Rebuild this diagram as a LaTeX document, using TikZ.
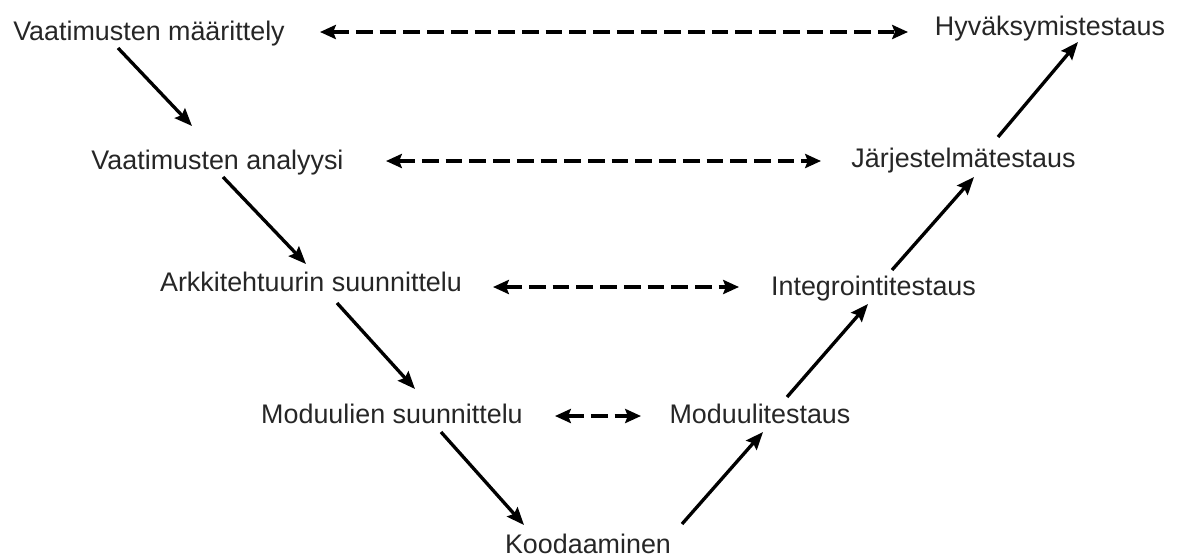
\documentclass[tikz,border=0pt]{standalone}
\usepackage{fontspec}
\setmainfont{Liberation Sans}
\usetikzlibrary{arrows.meta}
\begin{document}
\begin{tikzpicture}[x=0.02cm,y=-0.02cm,
  lbl/.style={anchor=base,inner sep=0pt,text=black!85,font=\fontsize{15.3}{18}\selectfont},
  flow/.style={line width=1.9pt,-{Stealth[length=10pt,width=8pt,inset=1.5pt]}},
  pair/.style={line width=1.9pt,dash pattern=on 9.5pt off 4pt,{Stealth[length=9pt,width=8pt,inset=1.5pt]}-{Stealth[length=9pt,width=8pt,inset=1.5pt]}}]
\useasboundingbox (0,0) rectangle (1179,558);
\node[lbl] (vm) at (149,40) {Vaatimusten määrittely};
\node[lbl] (hy) at (1050,35) {Hyväksymistestaus};
\node[lbl] (va) at (217.5,169) {Vaatimusten analyysi};
\node[lbl] (js) at (963.5,167) {Järjestelmätestaus};
\node[lbl] (ar) at (311,291) {Arkkitehtuurin suunnittelu};
\node[lbl] (it) at (873.5,295) {Integrointitestaus};
\node[lbl] (ms) at (392,423) {Moduulien suunnittelu};
\node[lbl] (mt) at (760,423) {Moduulitestaus};
\node[lbl] (ko) at (588,553) {Koodaaminen};
% solid flow arrows
\draw[flow] ([shift={(-31,8)}]vm.base) -- ([shift={(-25.5,-43)}]va.base);
\draw[flow] ([shift={(5.5,8)}]va.base) -- ([shift={(-5,-27)}]ar.base);
\draw[flow] ([shift={(26,12)}]ar.base) -- ([shift={(23,-34)}]ms.base);
\draw[flow] ([shift={(49,9)}]ms.base) -- ([shift={(-64,-28)}]ko.base);
\draw[flow] ([shift={(94,-29)}]ko.base) -- ([shift={(3,9)}]mt.base);
\draw[flow] ([shift={(27,-26)}]mt.base) -- ([shift={(-5.5,9)}]it.base);
\draw[flow] ([shift={(18.5,-25)}]it.base) -- ([shift={(10.5,10)}]js.base);
\draw[flow] ([shift={(34.5,-30)}]js.base) -- ([shift={(28,7)}]hy.base);
% dashed correspondence arrows
\draw[pair] ([shift={(171,-8)}]vm.base) -- ([shift={(-142,-3)}]hy.base);
\draw[pair] ([shift={(168.5,-8)}]va.base) -- ([shift={(-142.5,-6)}]js.base);
\draw[pair] ([shift={(182,-4)}]ar.base) -- ([shift={(-134.5,-8)}]it.base);
\draw[pair] ([shift={(163,-7)}]ms.base) -- ([shift={(-119,-7)}]mt.base);
\end{tikzpicture}
\end{document}
